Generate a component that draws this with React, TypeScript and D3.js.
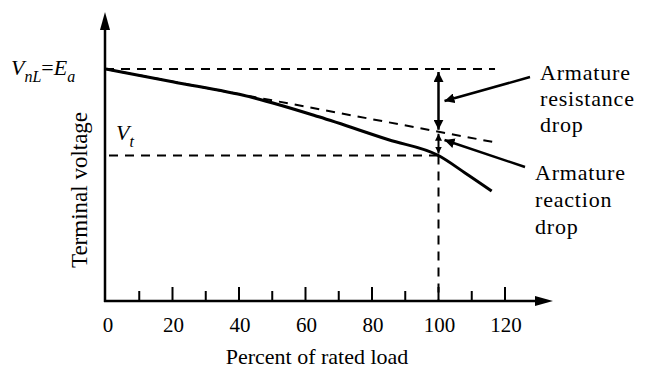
import React from "react";
import * as d3 from "d3";

// Terminal characteristic of a separately excited DC generator
const loadPct = [0, 20, 43, 64, 85, 100, 108, 116];
const terminalV = [1.0, 0.945, 0.881, 0.794, 0.695, 0.627, 0.552, 0.474];

// E_a - I_a R_A line (no armature reaction)
const noReactionPct = [0, 118];
const noReactionV = [1.0, 0.681];

const xTicks = [0, 20, 40, 60, 80, 100, 120];
const minorTicks = [10, 30, 50, 70, 90, 110];

const V_NL = 1.0;
const V_T = 0.627;
const RATED = 100;

const W = 671;
const H = 387;
const FONT = "'Liberation Serif', 'Times New Roman', serif";

export default function App() {
  const x = d3.scaleLinear().domain([0, 120]).range([106, 505]);
  const y = d3.scaleLinear().domain([0, 1]).range([301, 69]);
  const axisY = y(0);
  const axisX = x(0) - 1;

  const line = d3
    .line<number>()
    .x((_, i) => x(loadPct[i]))
    .y((d) => y(d))
    .curve(d3.curveMonotoneX);

  const straight = d3
    .line<number>()
    .x((_, i) => x(noReactionPct[i]))
    .y((d) => y(d));

  const dropV = noReactionV[0] + ((noReactionV[1] - noReactionV[0]) * RATED) / noReactionPct[1];
  const xr = x(RATED);
  const dash = "9,7";

  return (
    <svg
      width={W}
      height={H}
      style={{ position: "absolute", left: 0, top: 0, background: "#fff" }}
      fontFamily={FONT}
    >
      <defs>
        <marker id="ah" viewBox="0 0 10 10" refX="10" refY="5" markerWidth="10" markerHeight="10" markerUnits="userSpaceOnUse" orient="auto-start-reverse">
          <path d="M0,0 L10,5 L0,10 z" fill="#000" />
        </marker>
        <marker id="ahs" viewBox="0 0 10 10" refX="10" refY="5" markerWidth="7" markerHeight="7" markerUnits="userSpaceOnUse" orient="auto-start-reverse">
          <path d="M0,0 L10,5 L0,10 z" fill="#000" />
        </marker>
      </defs>

      {/* dashed guide lines */}
      <line x1={axisX} x2={x(117)} y1={y(V_NL)} y2={y(V_NL)} stroke="#000" strokeWidth={2} strokeDasharray={dash} />
      <line x1={axisX + 4} x2={xr} y1={y(V_T)} y2={y(V_T)} stroke="#000" strokeWidth={2} strokeDasharray={dash} />
      <line x1={xr} x2={xr} y1={y(V_T)} y2={axisY} stroke="#000" strokeWidth={2} strokeDasharray={dash} />
      <path d={straight(noReactionV) || ""} fill="none" stroke="#000" strokeWidth={2} strokeDasharray={dash} />

      {/* terminal characteristic */}
      <path d={line(terminalV) || ""} fill="none" stroke="#000" strokeWidth={3} />

      {/* drop arrows */}
      <line x1={xr} x2={xr} y1={y(V_NL) + 3} y2={y(dropV) - 2} stroke="#000" strokeWidth={2.5} markerStart="url(#ah)" markerEnd="url(#ah)" />
      <line x1={xr} x2={xr} y1={y(dropV) + 2} y2={y(V_T) - 2} stroke="#000" strokeWidth={2} markerStart="url(#ahs)" markerEnd="url(#ahs)" />

      {/* annotation pointers */}
      <line x1={530} y1={77} x2={xr + 6} y2={101} stroke="#000" strokeWidth={2.5} markerEnd="url(#ah)" />
      <line x1={525} y1={167} x2={xr + 6} y2={140} stroke="#000" strokeWidth={2.5} markerEnd="url(#ah)" />

      {/* axes */}
      <line x1={axisX} x2={axisX} y1={axisY + 1} y2={22} stroke="#000" strokeWidth={2.5} />
      <path d={`M${axisX},12 L${axisX - 5},30 L${axisX + 5},30 z`} fill="#000" />
      <line x1={axisX - 1} x2={543} y1={axisY} y2={axisY} stroke="#000" strokeWidth={2.5} />
      <path d={`M553,${axisY} L535,${axisY - 5} L535,${axisY + 5} z`} fill="#000" />

      {xTicks.slice(1).map((t) => (
        <line key={"M" + t} x1={x(t)} x2={x(t)} y1={axisY} y2={axisY - 14} stroke="#000" strokeWidth={2} />
      ))}
      {minorTicks.map((t) => (
        <line key={"m" + t} x1={x(t)} x2={x(t)} y1={axisY} y2={axisY - 10} stroke="#000" strokeWidth={2} />
      ))}
      {xTicks.map((t) => (
        <text key={"l" + t} x={x(t) + (t === 0 ? 2 : 1)} y={332} textAnchor="middle" fontSize={21}>
          {t}
        </text>
      ))}

      <text x={317} y={364} textAnchor="middle" fontSize={22}>
        Percent of rated load
      </text>
      <text transform="translate(87,190) rotate(-90)" textAnchor="middle" fontSize={23}>
        Terminal voltage
      </text>

      {/* V_nL = E_a */}
      <text x={11} y={y(V_NL) + 6} fontSize={22}>
        <tspan fontStyle="italic">V</tspan>
        <tspan fontStyle="italic" fontSize={16} dy={7}>nL</tspan>
        <tspan dy={-7}>=</tspan>
        <tspan fontStyle="italic">E</tspan>
        <tspan fontStyle="italic" fontSize={16} dy={7}>a</tspan>
      </text>

      {/* V_t */}
      <text x={116} y={y(V_T) - 16} fontSize={22}>
        <tspan fontStyle="italic">V</tspan>
        <tspan fontStyle="italic" fontSize={16} dy={7}>t</tspan>
      </text>

      {/* annotations */}
      <text x={540} y={80} fontSize={22} letterSpacing={0.8}>
        <tspan x={540}>Armature</tspan>
        <tspan x={540} dy={26}>resistance</tspan>
        <tspan x={540} dy={26}>drop</tspan>
      </text>
      <text x={535} y={180} fontSize={22} letterSpacing={0.8}>
        <tspan x={535}>Armature</tspan>
        <tspan x={535} dy={27}>reaction</tspan>
        <tspan x={535} dy={27}>drop</tspan>
      </text>
    </svg>
  );
}
